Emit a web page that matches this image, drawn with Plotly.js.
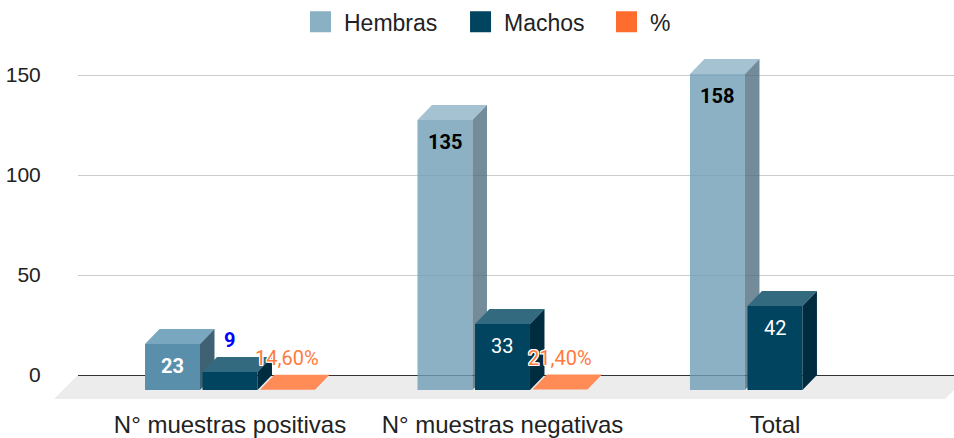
<!DOCTYPE html>
<html><head><meta charset="utf-8">
<script src="https://cdn.plot.ly/plotly-3.0.1.min.js"></script>
<style>html,body{margin:0;padding:0;background:#fff}#chart{width:954px;height:438px}</style>
</head><body><div id="chart"></div>
<script>
// ---- data ----
const categories = ['N° muestras positivas', 'N° muestras negativas', 'Total'];
const hembras = [23, 135, 158];
const machos = [9, 33, 42];
const porcentaje = [0.146, 0.214, null];
const porcentajeLabels = ['14,60%', '21,40%', ''];
const yTicks = [0, 50, 100, 150];
const seriesNames = ['Hembras', 'Machos', '%'];

// ---- style ----
const BAR_W = 0.2018, DX = 0.0532, DY = 7.5;
const offsets = [-0.211, 0, 0.211];
const FONT = 'Roboto, Arial, sans-serif';
const AXFONT = '"Liberation Sans", Arial, sans-serif';
const legendColors = ['#8ab0c4', '#01445f', '#ff6d2e'];
const legendX = [0.2500, 0.4327, 0.5993];
const hA = {front: 'rgba(111,157,181,0.8)', top: 'rgba(143,179,200,0.8)', side: 'rgba(81,111,127,0.8)'};
const faceColors = [
  [{front: '#5a8fab', top: '#79a7bf', side: '#3e6274'}, hA, hA],
  [0, 1, 2].map(() => ({front: '#00445f', top: '#346a80', side: '#002c40'})),
  [0, 1, 2].map(() => ({front: '#ff6d2e', top: '#ff8b57', side: '#c0501f'}))
];
const labelStyle = [
  [{c: '#ffffff', w: 700, pos: 'in'}, {c: '#000000', w: 700, pos: 'in'}, {c: '#000000', w: 700, pos: 'in'}],
  [{c: '#0000ff', w: 700, pos: 'out'}, {c: '#ffffff', w: 400, pos: 'in'}, {c: '#ffffff', w: 400, pos: 'in'}],
  [{c: '#ff7a3d', w: 400, pos: 'out', halo: true}, {c: '#ff7a3d', w: 400, pos: 'out', halo: true}, {c: '#ff7a3d', w: 400, pos: 'out', halo: true}]
];

const seriesValues = [hembras, machos, porcentaje];
const seriesTexts = [hembras.map(String), machos.map(String), porcentajeLabels];

const traces = [];
const annotations = [];
function poly(xs, ys, color) {
  traces.push({type: 'scatter', mode: 'lines', x: xs, y: ys, fill: 'toself', fillcolor: color,
    line: {width: 0, color: color}, hoverinfo: 'skip', showlegend: false});
}
seriesValues.forEach((vals, s) => {
  vals.forEach((v, i) => {
    if (v === null || v === undefined) return;
    const cx = i + offsets[s];
    const x0 = cx - BAR_W / 2, x1 = cx + BAR_W / 2;
    const yb = -DY, yt = v - DY;
    const col = faceColors[s][i];
    poly([x0, x1, x1, x0, x0], [yb, yb, yt, yt, yb], col.front);
    poly([x0, x1, x1 + DX, x0 + DX, x0], [yt, yt, v, v, yt], col.top);
    poly([x1, x1 + DX, x1 + DX, x1, x1], [yb, 0, v, yt, yb], col.side);
    const st = labelStyle[s][i];
    const txt = seriesTexts[s][i];
    if (!txt) return;
    const font = {family: FONT, size: 20, color: st.c, weight: st.w};
    if (st.halo) font.shadow = '1px 1px 0 #fff, -1px -1px 0 #fff, 1px -1px 0 #fff, -1px 1px 0 #fff, 0 1px 0 #fff, 0 -1px 0 #fff, 1px 0 0 #fff, -1px 0 0 #fff';
    annotations.push({
      x: cx, y: st.pos === 'in' ? yt : v, xref: 'x', yref: 'y', text: txt, showarrow: false,
      xanchor: 'center', yanchor: 'middle', yshift: st.pos === 'in' ? -22 : 17, font: font
    });
  });
});
// legend entries (one legend box per series so spacing matches)
const legendIds = ['legend', 'legend2', 'legend3'];
seriesNames.forEach((n, s) => {
  traces.push({type: 'scatter', mode: 'markers', x: [null], y: [null], name: n, hoverinfo: 'skip',
    legend: legendIds[s],
    marker: {symbol: 'square', size: 16, color: legendColors[s], line: {width: 5, color: legendColors[s]}}});
});

const layout = {
  width: 954, height: 438,
  margin: {l: 78, r: 0, t: 55, b: 38},
  paper_bgcolor: '#ffffff', plot_bgcolor: 'rgba(0,0,0,0)',
  font: {family: AXFONT, color: '#222222'},
  showlegend: true,
  xaxis: {range: [-0.5578, 2.657], tickvals: [0, 1, 2], ticktext: categories, showgrid: false,
    zeroline: false, showline: false, ticks: '', ticklabelstandoff: 8,
    tickfont: {family: AXFONT, size: 24, color: '#222222'}},
  yaxis: {range: [-12.5, 160], tickvals: yTicks, ticktext: yTicks.map(String), showgrid: true,
    gridcolor: '#cccccc', gridwidth: 1, zeroline: true, zerolinecolor: '#333333', zerolinewidth: 1,
    showline: false, ticks: 'outside', ticklen: 32, tickcolor: 'rgba(0,0,0,0)',
    tickfont: {family: AXFONT, size: 21, color: '#222222'}},
  shapes: [{type: 'path', xref: 'paper', yref: 'paper', layer: 'below',
    path: 'M0,0.07246 L1.0171,0.07246 L0.98973,0.0029 L-0.0274,0.0029 Z',
    fillcolor: '#ececec', line: {width: 0}}],
  annotations: annotations
};
legendIds.forEach((id, s) => {
  layout[id] = {orientation: 'h', x: legendX[s], xanchor: 'left', y: 1.096, yanchor: 'middle', itemwidth: 37,
    bgcolor: 'rgba(0,0,0,0)', font: {family: AXFONT, size: 23, color: '#222222'}};
});
Plotly.newPlot('chart', traces, layout, {displayModeBar: false, staticPlot: true});
</script></body></html>
